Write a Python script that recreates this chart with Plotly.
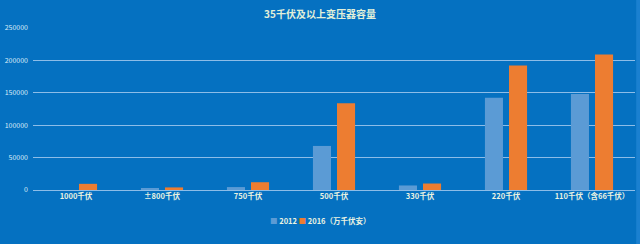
import plotly.graph_objects as go

categories = ["1000千伏", "±800千伏", "750千伏", "500千伏", "330千伏", "220千伏", "110千伏（含66千伏）"]
values_2012 = [0, 3000, 4500, 68000, 7000, 142500, 148000]
values_2016 = [9500, 4000, 12000, 134000, 10000, 192000, 209000]
series_names = ["2012", "2016（万千伏安）"]
series_colors = ["#5B9BD5", "#ED7D31"]
y_ticks = [0, 50000, 100000, 150000, 200000, 250000]
title_text = "35千伏及以上变压器容量"

FONT = "Noto Sans CJK SC"
BG = "#0571C1"
GRID = "#8DBDE8"

fig = go.Figure()
for name, vals, col in zip(series_names, [values_2012, values_2016], series_colors):
    fig.add_trace(go.Bar(x=categories, y=vals, name=name, marker_color=col,
                         marker_line_width=0, showlegend=False))

legend_html = " ".join(
    f"<span style='color:{c}'>■</span> {n}" for n, c in zip(series_names, series_colors)
)

fig.update_layout(
    width=640, height=244,
    margin=dict(l=33, r=5, t=28, b=54),
    paper_bgcolor=BG, plot_bgcolor=BG,
    barmode="group", bargap=0.44, bargroupgap=0.25,
    font=dict(family=FONT, color="#E8F2FA"),
    title=dict(text=title_text, x=0.5, xref="container", xanchor="center",
               y=(244 - 14) / 244, yref="container", yanchor="middle",
               font=dict(family=FONT, size=10, color="#E2F0D9", weight="bold")),
    xaxis=dict(showgrid=False, showline=False, ticks="",
               tickfont=dict(family=FONT, size=7.5, color="#EAF3E2", weight="bold")),
    yaxis=dict(range=[0, 250000], tickvals=y_ticks, ticktext=[str(v) for v in y_ticks],
               showgrid=True, gridcolor=GRID, gridwidth=1.2,
               zeroline=True, zerolinecolor=GRID, zerolinewidth=1.2,
               showline=False, ticks="", ticklabelstandoff=4,
               tickfont=dict(family=FONT, size=7, color="#DDEBF7")),
    annotations=[dict(text=legend_html, xref="paper", yref="paper", x=0.478, y=-30 / 162,
                      xanchor="center", yanchor="middle", showarrow=False,
                      font=dict(family=FONT, size=7.5, color="#EAF3E2", weight="bold"))],
    shapes=[dict(type="rect", xref="paper", yref="paper", x0=1.002, x1=1.02, y0=-0.5, y1=1.3,
                 fillcolor="#1A80D0", line_width=0, layer="above")],
)

fig.write_html("out.html")
